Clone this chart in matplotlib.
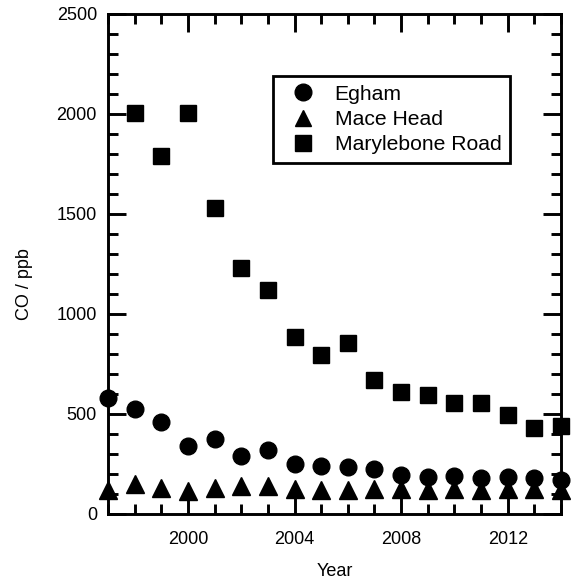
import matplotlib
matplotlib.use("Agg")
import matplotlib.pyplot as plt
from matplotlib.ticker import MultipleLocator
from matplotlib.lines import Line2D

plt.rcParams['font.family'] = ['Liberation Sans', 'DejaVu Sans']

years = list(range(1997, 2015))
egham = [578, 525, 462, 342, 375, 292, 322, 250, 242, 237, 225, 195, 187, 192, 178, 187, 178, 170]
mace_head = [120, 150, 128, 117, 128, 140, 142, 123, 120, 118, 123, 123, 120, 123, 120, 123, 123, 120]
mary_years = list(range(1998, 2015))
marylebone = [2005, 1790, 2005, 1530, 1230, 1120, 885, 795, 855, 672, 610, 597, 557, 553, 493, 430, 440]

fig = plt.figure(figsize=(5.71, 5.80), dpi=100)
ax = fig.add_axes([108/571, 1-514/580, (561-108)/571, (514-14)/580])

ax.plot(years, mace_head, linestyle='none', marker='^', color='black', markersize=13, clip_on=False, zorder=3)
ax.plot(years, egham, linestyle='none', marker='o', color='black', markersize=12, clip_on=False, zorder=4)
ax.plot(mary_years, marylebone, linestyle='none', marker='s', color='black', markersize=12, clip_on=False, zorder=3)

ax.set_xlim(1997, 2014)
ax.set_ylim(0, 2500)
ax.xaxis.set_major_locator(MultipleLocator(4))
ax.xaxis.set_minor_locator(MultipleLocator(1))
ax.yaxis.set_major_locator(MultipleLocator(500))
ax.yaxis.set_minor_locator(MultipleLocator(100))
ax.set_xticks([2000, 2004, 2008, 2012])

for s in ax.spines.values():
    s.set_linewidth(2.1)
ax.tick_params(which='both', direction='in', top=True, right=True, width=2.1, labelsize=13)
ax.tick_params(which='major', length=13)
ax.tick_params(which='minor', length=7)
ax.tick_params(axis='x', which='major', pad=12)
ax.tick_params(axis='y', which='major', pad=8)

ax.set_xlabel('Year', fontsize=13, labelpad=11)
ax.set_ylabel('CO / ppb', fontsize=13, labelpad=18)
ax.yaxis.set_label_coords(-0.165, 0.46)

handles = [
    Line2D([], [], linestyle='none', marker='o', color='black', markersize=12),
    Line2D([], [], linestyle='none', marker='^', color='black', markersize=12),
    Line2D([], [], linestyle='none', marker='s', color='black', markersize=11),
]
leg = ax.legend(handles, ['Egham', 'Mace Head', 'Marylebone Road'], loc='upper left',
                bbox_to_anchor=((273-108)/453, 1-(76-14)/500), fontsize=15.2,
                frameon=True, fancybox=False, edgecolor='black', framealpha=1,
                borderpad=0.42, labelspacing=0.29, handletextpad=0.5, handlelength=2.0,
                borderaxespad=0)
leg.get_frame().set_linewidth(2)

fig.savefig('out.png', dpi=100)
